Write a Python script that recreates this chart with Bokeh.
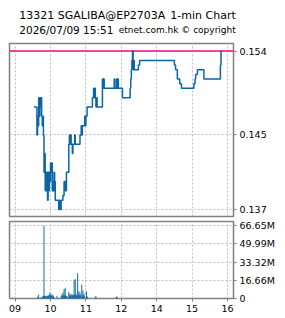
from bokeh.plotting import figure
from bokeh.layouts import column
from bokeh.models import Range1d, FixedTicker, Span, PrintfTickFormatter
from bokeh.core.properties import value
from bokeh.embed import file_html
from bokeh.resources import INLINE

# ---------------- data ----------------
title_code = "13321 SGALIBA@EP2703A"
chart_kind = "1-min Chart"
stamp = "2026/07/09 15:51"
credit = "etnet.com.hk © copyright"

price_times = ["09:32", "09:37", "09:38", "09:39", "09:40", "09:41", "09:42", "09:43",
               "09:44", "09:45", "09:46", "09:47", "09:48", "09:49", "09:50", "09:51",
               "09:52", "09:53", "09:54", "09:55", "09:56", "09:57", "09:58", "09:59",
               "10:00", "10:01", "10:02", "10:03", "10:04", "10:05", "10:06", "10:07",
               "10:08", "10:14", "10:15", "10:16", "10:18", "10:21", "10:23", "10:24",
               "10:25", "10:26", "10:27", "10:28", "10:31", "10:32", "10:33", "10:34",
               "10:35", "10:37", "10:38", "10:41", "10:42", "10:50", "10:52", "10:53",
               "10:54", "10:58", "10:59", "11:00", "11:02", "11:11", "11:13", "11:14",
               "11:15", "11:16", "11:17", "11:18", "11:19", "11:28", "11:29", "11:30",
               "11:31", "11:48", "11:49", "11:52", "11:53", "11:54", "11:55", "13:02",
               "13:15", "13:16", "13:17", "13:18", "13:19", "13:20", "13:21", "13:22",
               "13:29", "13:31", "14:30", "14:32", "14:35", "14:39", "14:42", "15:03",
               "15:05", "15:06", "15:09", "15:20", "15:48", "15:49", "15:50"]
price_values = [0.148, 0.145, 0.147, 0.146, 0.149, 0.147, 0.149, 0.148,
                0.149, 0.147, 0.146, 0.147, 0.145, 0.141, 0.143, 0.139,
                0.141, 0.139, 0.141, 0.138, 0.141, 0.139, 0.141, 0.140,
                0.142, 0.141, 0.142, 0.139, 0.140, 0.139, 0.141, 0.140,
                0.138, 0.137, 0.138, 0.137, 0.138, 0.1385, 0.140, 0.139,
                0.140, 0.139, 0.141, 0.141, 0.144, 0.145, 0.144, 0.145,
                0.144, 0.143, 0.144, 0.145, 0.144, 0.145, 0.146, 0.145,
                0.146, 0.147, 0.146, 0.147, 0.148, 0.149, 0.150, 0.149,
                0.150, 0.149, 0.148, 0.149, 0.148, 0.151, 0.150, 0.151,
                0.150, 0.151, 0.150, 0.151, 0.150, 0.151, 0.150, 0.149,
                0.150, 0.151, 0.152, 0.153, 0.154, 0.152, 0.153, 0.152,
                0.1525, 0.153, 0.1525, 0.152, 0.151, 0.1505, 0.150, 0.1505,
                0.151, 0.1515, 0.152, 0.151, 0.1525, 0.154, 0.154]

vol_times = ["09:38", "09:40", "09:43", "09:46", "09:47", "09:48", "09:49", "09:50",
             "09:51", "09:52", "09:53", "09:54", "09:55", "09:56", "09:57", "09:58",
             "09:59", "10:00", "10:01", "10:02", "10:03", "10:04", "10:05", "10:06",
             "10:11", "10:18", "10:19", "10:20", "10:21", "10:22", "10:23", "10:24",
             "10:25", "10:26", "10:27", "10:29", "10:31", "10:32", "10:33", "10:34",
             "10:35", "10:36", "10:37", "10:38", "10:39", "10:40", "10:41", "10:42",
             "10:43", "10:44", "10:45", "10:46", "10:47", "10:48", "10:49", "10:50",
             "10:51", "10:53", "10:54", "10:55", "10:56", "10:57", "10:58", "11:01",
             "11:02", "11:03", "11:16", "11:17", "11:51", "11:52", "11:53"]
vol_values_m = [1.5, 3.5, 1.0, 1.5, 2.0, 2.5, 66.65, 2.5,
                2.0, 2.0, 1.5, 2.5, 2.0, 3.0, 2.5, 3.5,
                5.5, 3.0, 4.0, 2.5, 2.5, 3.5, 2.0, 1.0,
                2.5, 2.0, 3.7, 2.0, 5.5, 3.0, 8.6, 3.0,
                9.8, 2.0, 2.5, 1.5, 6.0, 3.0, 4.3, 2.0,
                4.0, 3.0, 3.7, 2.5, 3.0, 17.1, 4.0, 17.7,
                4.3, 3.0, 2.0, 23.2, 4.0, 6.7, 3.0, 5.5,
                3.0, 12.8, 3.0, 7.3, 2.5, 4.3, 1.5, 6.7,
                2.0, 1.2, 1.5, 2.0, 1.0, 1.5, 1.5]

hour_ticks = ["09:00", "10:00", "11:00", "12:00", "14:00", "15:00", "16:00"]
hour_labels = ["09", "10", "11", "12", "14", "15", "16"]
price_ticks = [0.137, 0.145, 0.154]
vol_ticks_m = [0, 16.66, 33.32, 49.99, 66.65]
vol_tick_labels = ["0", "16.66M", "33.32M", "49.99M", "66.65M"]


def pos(hhmm):
    """Trading-minute position from 09:00, lunch break (12:00-13:00) removed."""
    h, m = map(int, hhmm.split(":"))
    mins = h * 60 + m - 540
    if mins >= 240:
        mins -= 60
    return mins


BLUE = "#0b66a6"
GRID = "#bdbdbd"
FRAME = "#808080"
FONT = "DejaVu Sans"

hour_pos = [pos(t) for t in hour_ticks]
x_rng = Range1d(-9.5, 370.2)

# ---------------- header ----------------
h = figure(width=285, height=40, x_range=Range1d(0, 285), y_range=Range1d(40, 0),
           x_axis_location=None, y_axis_location=None, output_backend="svg",
           toolbar_location=None, min_border=0, outline_line_color=None)
h.xgrid.visible = False
h.ygrid.visible = False
hdr = dict(text_font=value(FONT), text_color="black", text_baseline="alphabetic")
h.text(x=[12], y=[15], text=[title_code], text_align="left", text_font_size="11px", **hdr)
h.text(x=[278], y=[15], text=[chart_kind], text_align="right", text_font_size="11px", **hdr)
h.text(x=[12], y=[29], text=[stamp], text_align="left", text_font_size="10.5px", **hdr)
h.text(x=[278], y=[29], text=[credit], text_align="right", text_font_size="9px", **hdr)


def style(fig):
    fig.outline_line_color = FRAME
    fig.outline_line_width = 1.5
    for ax in fig.axis:
        ax.axis_line_color = None
        ax.major_tick_line_color = FRAME
        ax.major_tick_out = 3
        ax.major_tick_in = 0
        ax.minor_tick_line_color = None
        ax.major_label_text_font = FONT
        ax.major_label_text_font_size = "9.5px"
        ax.major_label_text_color = "black"
        ax.major_label_standoff = 3
    for g in list(fig.xgrid) + list(fig.ygrid):
        g.grid_line_color = GRID
        g.grid_line_dash = "2 2"
        g.grid_line_width = 1


# ---------------- price ----------------
p = figure(frame_width=224, frame_height=173, x_range=x_rng,
           y_range=Range1d(0.13625, 0.154814), x_axis_location=None,
           y_axis_location="right", output_backend="svg", toolbar_location=None,
           min_border_left=9, min_border_top=3, min_border_bottom=3, min_border_right=0)
p.yaxis.ticker = FixedTicker(ticks=price_ticks)
p.yaxis.formatter = PrintfTickFormatter(format="%.3f")
p.xgrid.ticker = FixedTicker(ticks=hour_pos)
p.ygrid.ticker = FixedTicker(ticks=price_ticks)
style(p)
p.add_layout(Span(location=max(price_values), dimension="width", line_color="#ff0a82",
                  line_width=1.5, level="underlay"))
p.step(x=[pos(t) for t in price_times], y=price_values, mode="after",
       line_color=BLUE, line_width=1.5)

# ---------------- volume ----------------
v = figure(frame_width=224, frame_height=77, x_range=x_rng, y_range=Range1d(0, 70.6),
           y_axis_location="right", output_backend="svg", toolbar_location=None,
           min_border_left=9, min_border_top=2, min_border_bottom=0, min_border_right=0)
v.xaxis.ticker = FixedTicker(ticks=hour_pos)
v.xaxis.major_label_overrides = {k: lab for k, lab in zip(hour_pos, hour_labels)}
v.yaxis.ticker = FixedTicker(ticks=vol_ticks_m)
v.yaxis.major_label_overrides = {k: lab for k, lab in zip(vol_ticks_m, vol_tick_labels)}
v.xgrid.ticker = FixedTicker(ticks=hour_pos)
v.ygrid.ticker = FixedTicker(ticks=vol_ticks_m)
style(v)
v.vbar(x=[pos(t) for t in vol_times], top=vol_values_m, bottom=0, width=1.6,
       fill_color=BLUE, line_color=None)

layout = column(h, p, v, spacing=0)
open("out.html", "w").write(file_html(layout, INLINE))
